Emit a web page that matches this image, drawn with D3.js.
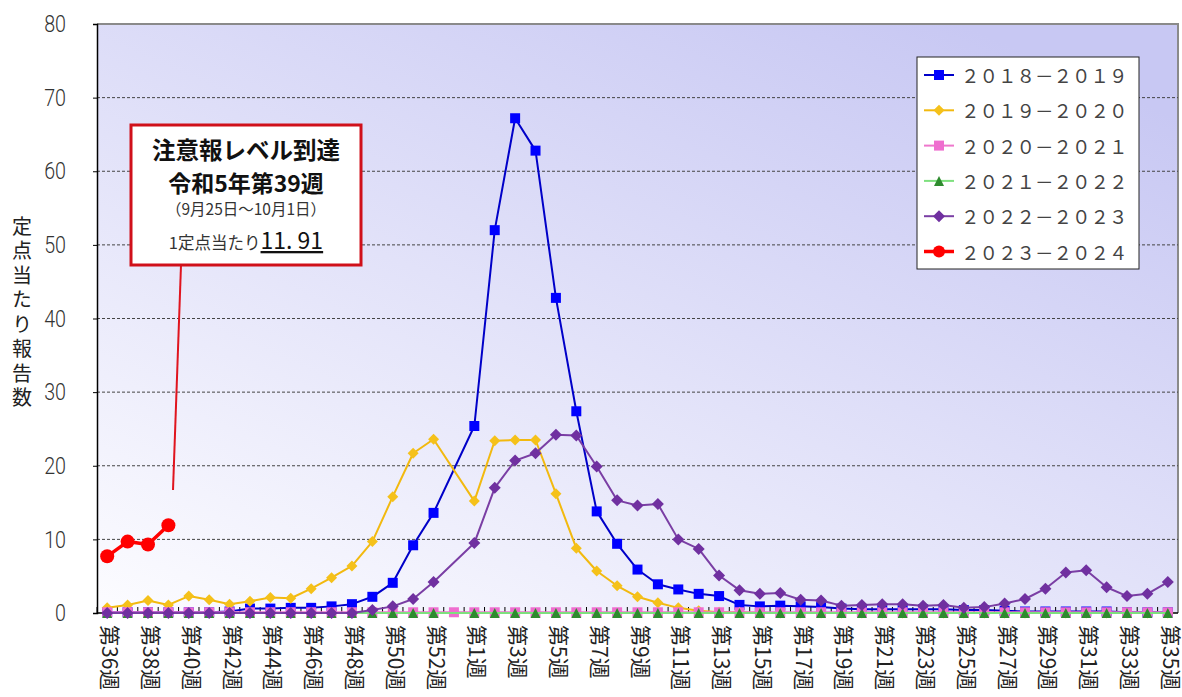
<!DOCTYPE html>
<html><head><meta charset="utf-8">
<script src="https://cdn.jsdelivr.net/npm/d3@7"></script>
<style>
body{margin:0;background:#fff;}
svg{display:block;}
text{font-family:"Noto Sans CJK JP","Noto Sans",sans-serif;}
</style></head>
<body><svg id="c" width="1182" height="697"></svg>
<script>
const weeks = [36,37,38,39,40,41,42,43,44,45,46,47,48,49,50,51,52,53,1,2,3,4,5,6,7,8,9,10,11,12,13,14,15,16,17,18,19,20,21,22,23,24,25,26,27,28,29,30,31,32,33,34,35];
const weekLabels = weeks.map(w => "第" + w + "週");
const yTicks = [0,10,20,30,40,50,60,70,80];
const seriesNames = ["２０１８－２０１９","２０１９－２０２０","２０２０－２０２１","２０２１－２０２２","２０２２－２０２３","２０２３－２０２４"];

const s2018 = [0.1,0.1,0.1,0.1,0.1,0.1,0.2,0.6,0.6,0.7,0.7,0.9,1.2,2.2,4.1,9.2,13.6,null,25.4,52.0,67.2,62.8,42.8,27.4,13.8,9.4,5.9,3.9,3.2,2.6,2.3,1.1,0.9,1.0,0.9,0.8,0.6,0.5,0.5,0.5,0.5,0.5,0.4,0.4,0.3,0.2,0.2,0.2,0.2,0.2,0.1,0.1,0.1];
const s2019 = [0.7,1.1,1.7,1.1,2.3,1.8,1.2,1.6,2.1,2.0,3.3,4.8,6.4,9.7,15.8,21.7,23.6,null,15.2,23.4,23.5,23.5,16.2,8.8,5.7,3.7,2.2,1.4,0.7,0.3,0.1,0.1,0.0,0.0,0.0,0.0,0.0,0.0,0.0,0.0,0.0,0.0,0.0,0.0,0.0,0.0,0.0,0.0,0.0,0.0,0.0,0.0,0.0];
const s2020 = [0.1,0.1,0.1,0.1,0.1,0.1,0.1,0.1,0.1,0.1,0.1,0.1,0.1,0.1,0.1,0.1,0.1,0.1,0.1,0.1,0.1,0.1,0.1,0.1,0.1,0.1,0.1,0.1,0.1,0.1,0.1,0.1,0.1,0.1,0.1,0.1,0.1,0.1,0.1,0.1,0.1,0.1,0.1,0.1,0.1,0.1,0.1,0.1,0.1,0.1,0.1,0.1,0.1];
const s2021 = [0,0,0,0,0,0,0,0,0,0,0,0,0,0,0,0,0,null,0,0,0,0,0,0,0,0,0,0,0,0,0,0,0,0,0,0,0,0,0,0,0,0,0,0,0,0,0,0,0,0,0,0,0];
const s2022 = [0.0,0.0,0.0,0.0,0.0,0.0,0.0,0.0,0.0,0.0,0.0,0.0,0.0,0.4,0.9,1.9,4.2,null,9.5,17.0,20.7,21.7,24.2,24.1,19.9,15.3,14.6,14.8,10.0,8.7,5.1,3.1,2.6,2.7,1.8,1.7,1.0,1.1,1.2,1.2,1.0,1.1,0.7,0.8,1.3,1.9,3.3,5.5,5.8,3.5,2.3,2.6,4.2];
const s2023 = [7.7,9.7,9.3,11.91];

const series = [
  {name:seriesNames[0], data:s2018, line:"#0000c8", fill:"#0000ff", w:2, shape:"square", size:10},
  {name:seriesNames[1], data:s2019, line:"#f2b90f", fill:"#f5c11a", w:2, shape:"diamond", size:11},
  {name:seriesNames[2], data:s2020, line:"#ee77cc", fill:"#ef6ecf", w:2, shape:"square", size:10},
  {name:seriesNames[3], data:s2021, line:"#7ee07e", fill:"#2e8b2e", w:2, shape:"triangle", size:10},
  {name:seriesNames[4], data:s2022, line:"#7a3ea4", fill:"#7030a0", w:2, shape:"diamond", size:12},
  {name:seriesNames[5], data:s2023, line:"#ff0000", fill:"#ff0000", w:3.5, shape:"circle", size:14}
];

const svg = d3.select("#c");
const L=97, R=1178, T=24, B=613;
const x = d3.scaleBand().domain(d3.range(weeks.length)).range([L,R]);
const bw = x.bandwidth();
const cx = i => x(i) + bw/2;
const y = d3.scaleLinear().domain([0,80]).range([B,T]);

const defs = svg.append("defs");
const g = defs.append("linearGradient").attr("id","bg").attr("x1",0).attr("y1",1).attr("x2",0.8).attr("y2",0);
g.append("stop").attr("offset","0%").attr("stop-color","#fcfcff");
g.append("stop").attr("offset","100%").attr("stop-color","#c8c8f3");

svg.append("rect").attr("x",L).attr("y",T).attr("width",R-L).attr("height",B-T).attr("fill","url(#bg)");
svg.append("path").attr("d",`M${L},${T}H${R}V${B}`).attr("fill","none").attr("stroke","#8a8a8a").attr("stroke-width",2);

svg.append("g").selectAll("line").data(yTicks.filter(t=>t>0&&t<80)).join("line")
  .attr("x1",L).attr("x2",R).attr("y1",d=>y(d)).attr("y2",d=>y(d))
  .attr("stroke","#444").attr("stroke-width",1).attr("stroke-dasharray","3,2");

const ya = svg.append("g").attr("transform",`translate(${L},0)`)
  .call(d3.axisLeft(y).tickValues(yTicks).tickSize(4).tickPadding(27).tickFormat(d3.format("d")));
ya.select(".domain").attr("stroke","#000").attr("stroke-width",1.5);
ya.selectAll(".tick text").attr("font-size",24).attr("fill","#333").attr("font-weight",300)
  .style("font-family",'Roboto,"Liberation Sans",sans-serif')
  .attr("x",-31/0.82).attr("transform","scale(0.82,1)");

svg.append("line").attr("x1",L).attr("x2",R).attr("y1",B).attr("y2",B).attr("stroke","#000").attr("stroke-width",1.5);
svg.append("g").selectAll("line").data(d3.range(weeks.length)).join("line")
  .attr("x1",d=>x(d)).attr("x2",d=>x(d)).attr("y1",B).attr("y2",B-6)
  .attr("stroke","#000").attr("stroke-width",1);
svg.append("g").selectAll("text").data(d3.range(0,weeks.length,2)).join("text")
  .attr("transform",d=>`translate(${cx(d)+4},${625}) rotate(90)`)
  .attr("dominant-baseline","central").attr("font-size",21).attr("fill","#222")
  .text(d=>weekLabels[d]);

svg.append("text").attr("x",22).attr("y",216).attr("font-size",20).attr("fill","#222")
  .style("writing-mode","vertical-rl").style("letter-spacing","4.5px")
  .text("定点当たり報告数");

function marker(sel, s){
  const sz=s.size;
  if(s.shape==="circle") return sel.append("circle").attr("r",sz/2).attr("fill",s.fill);
  const p = sel.append("path").attr("fill",s.fill);
  if(s.shape==="square") p.attr("d",`M${-sz/2},${-sz/2}h${sz}v${sz}h${-sz}z`);
  if(s.shape==="diamond") p.attr("d",`M0,${-sz/2}L${sz/2},0L0,${sz/2}L${-sz/2},0z`);
  if(s.shape==="triangle") p.attr("d",`M0,${-sz/2}L${sz/2},${sz/2}L${-sz/2},${sz/2}z`);
  return p;
}

series.forEach(s=>{
  const pts = s.data.map((v,i)=>({i,v})).filter(d=>d.v!==null);
  const line = d3.line().x(d=>cx(d.i)).y(d=>y(d.v));
  svg.append("path").datum(pts).attr("d",line).attr("fill","none")
    .attr("stroke",s.line).attr("stroke-width",s.w).attr("stroke-linejoin","round");
  const mg = svg.append("g");
  pts.forEach(d=>{
    const m = mg.append("g").attr("transform",`translate(${cx(d.i)},${y(d.v)})`);
    marker(m,s);
  });
});

svg.append("line").attr("x1",181).attr("y1",265).attr("x2",173).attr("y2",490).attr("stroke","#e0141e").attr("stroke-width",2);
svg.append("rect").attr("x",131).attr("y",125).attr("width",230).attr("height",140)
  .attr("fill","#fff").attr("stroke","#d0101a").attr("stroke-width",3);
const ax=246;
svg.append("text").attr("x",ax).attr("y",159).attr("text-anchor","middle").attr("font-size",23.5).attr("font-weight","bold").attr("fill","#111").text("注意報レベル到達");
svg.append("text").attr("x",ax).attr("y",192).attr("text-anchor","middle").attr("font-size",23).attr("font-weight","bold").attr("fill","#111").text("令和5年第39週");
svg.append("text").attr("x",ax).attr("y",215).attr("text-anchor","middle").attr("font-size",15.5).attr("fill","#333").text("（9月25日～10月1日）");
const t4 = svg.append("text").attr("x",ax).attr("y",249).attr("text-anchor","middle").attr("fill","#222");
t4.append("tspan").attr("font-size",16.5).attr("fill","#333").text("1定点当たり");
t4.append("tspan").attr("font-size",23).attr("text-decoration","underline").attr("fill","#111").text("11. 91");

const lg = svg.append("g");
lg.append("rect").attr("x",917).attr("y",57).attr("width",222).attr("height",212).attr("fill","#fff").attr("stroke","#222").attr("stroke-width",1);
series.forEach((s,k)=>{
  const yy = 75 + k*35.3;
  lg.append("line").attr("x1",924).attr("x2",954).attr("y1",yy).attr("y2",yy).attr("stroke",s.line).attr("stroke-width",s.w);
  const m = lg.append("g").attr("transform",`translate(939,${yy})`);
  marker(m, Object.assign({}, s, {size: s.shape==="circle"?12:s.size}));
  lg.append("text").attr("x",961).attr("y",yy).attr("dominant-baseline","central").attr("font-size",18.5).attr("fill","#444").text(s.name);
});
</script></body></html>
